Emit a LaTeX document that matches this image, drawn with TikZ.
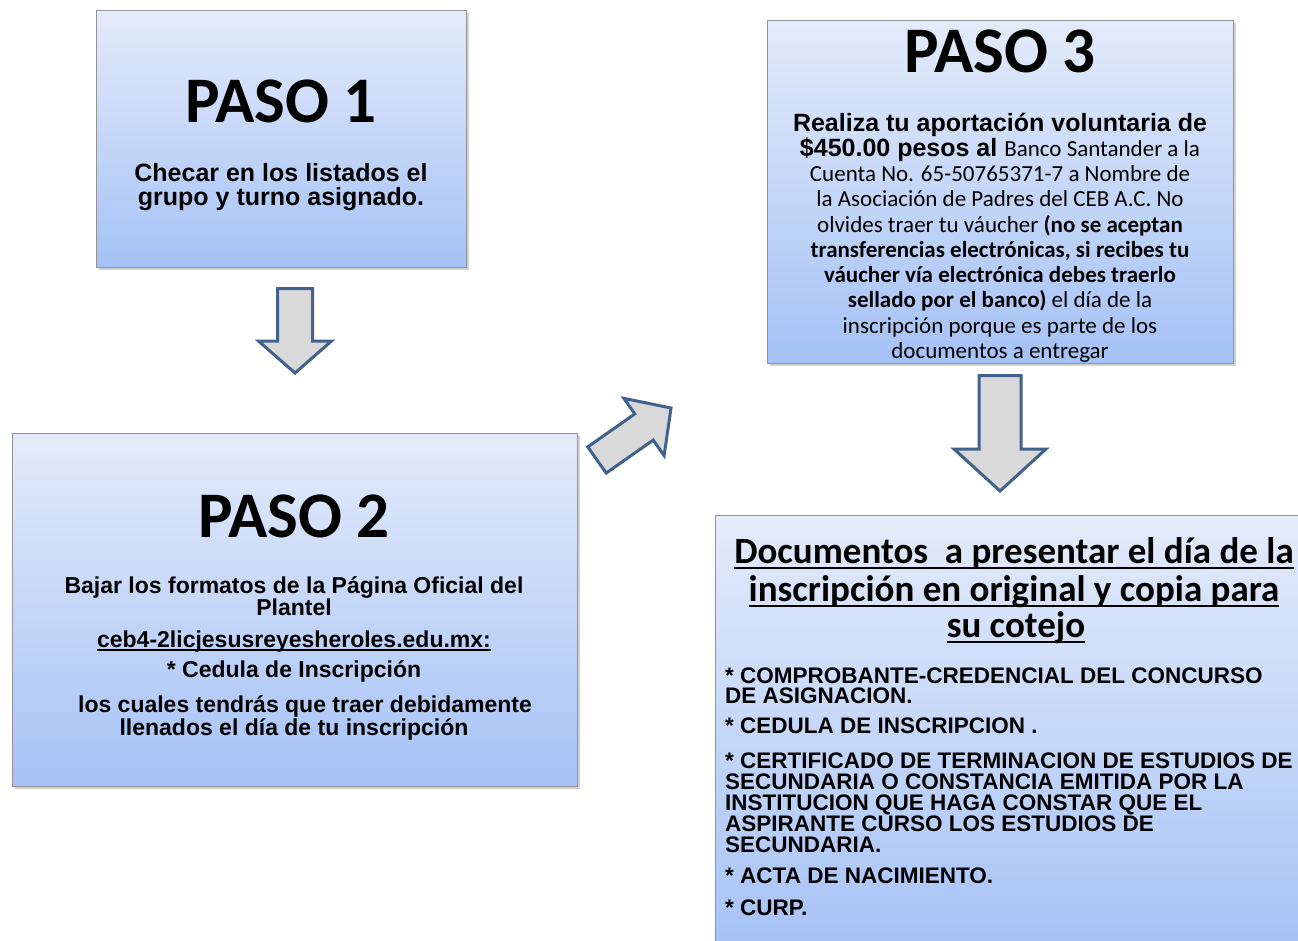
\documentclass[tikz,border=0pt]{standalone}
\usepackage{fontspec}
\setmainfont{Liberation Sans}
\newfontfamily\calibri{Carlito}
\usetikzlibrary{calc,shadows}

\definecolor{boxtop}{HTML}{E4EBFA}
\definecolor{boxbot}{HTML}{A5C2F6}
\definecolor{arrowline}{HTML}{41628C}
\definecolor{arrowfill}{HTML}{D9D9D9}

% thickness, depth, text
\newcommand{\ulined}[3]{\leavevmode\setbox0=\hbox{#3}\rlap{\copy0}\rule[-#2]{\wd0}{#1}}

\tikzstyle{stepbox} = [draw=gray!85, line width=0.8pt, top color=boxtop, bottom color=boxbot, inner sep=0pt,
  drop shadow={shadow xshift=2.5pt, shadow yshift=-2.5pt, opacity=0.35}]
\tikzstyle{pasotitle} = [anchor=base, inner sep=0pt, font=\calibri\bfseries\fontsize{65}{70}\selectfont]
\tikzstyle{bodyline} = [anchor=base, inner sep=0pt, text height=16pt, text depth=4pt, font=\bfseries\fontsize{23}{25}\selectfont]
\tikzstyle{calline} = [anchor=base, inner sep=0pt, font=\calibri\fontsize{23}{25}\selectfont]
\tikzstyle{doctitle} = [anchor=base, inner sep=0pt, font=\calibri\bfseries\fontsize{37}{40}\selectfont]
\tikzstyle{docitem} = [anchor=base west, inner sep=0pt, text height=16pt, text depth=3pt, font=\bfseries\fontsize{22.5}{24}\selectfont]
\tikzstyle{blockarrow} = [draw=arrowline, fill=arrowfill, line width=3pt, line join=miter]

% tail, tip, shaft half width, head half width, head length
\newcommand{\blockarrow}[5]{%
  \coordinate (#1-h) at ($(#2)!#5!(#1)$);
  \filldraw[blockarrow] ($(#1)!#3!90:(#2)$) -- ($(#1-h)!#3!90:(#2)$) -- ($(#1-h)!#4!90:(#2)$)
    -- (#2) -- ($(#1-h)!#4!-90:(#2)$) -- ($(#1-h)!#3!-90:(#2)$) -- ($(#1)!#3!-90:(#2)$) -- cycle;}

\begin{document}
\begin{tikzpicture}[x=1pt, y=-1pt]
  \useasboundingbox[fill=white] (0,0) rectangle (1298,940);

  % PASO 1
  \node[stepbox, minimum width=370pt, minimum height=257pt] (paso1) at (281,138.5) {};
  \node[pasotitle] (t1) at (281,122) {PASO 1};
  \node[bodyline, font=\bfseries\fontsize{25}{25}\selectfont] (p1a) at (281,181) {Checar en los listados el};
  \node[bodyline, font=\bfseries\fontsize{25}{25}\selectfont] (p1b) at (281,205) {grupo y turno asignado.};

  % PASO 2
  \node[stepbox, minimum width=565pt, minimum height=353pt] (paso2) at (294.5,609.5) {};
  \node[pasotitle] (t2) at (294,537) {PASO 2};
  \node[bodyline] (p2a) at (294,593) {Bajar los formatos de la Página Oficial del};
  \node[bodyline] (p2b) at (294,615) {Plantel};
  \node[bodyline] (p2c) at (294,647) {\ulined{1.3pt}{3.5pt}{ceb4-2licjesusreyesheroles.edu.mx:}};
  \node[bodyline] (p2d) at (294,677) {* Cedula de Inscripción};
  \node[bodyline] (p2e) at (305,712) {los cuales tendrás que traer debidamente};
  \node[bodyline] (p2f) at (294,735) {llenados el día de tu inscripción};

  % PASO 3
  \node[stepbox, minimum width=466pt, minimum height=343pt] (paso3) at (1000,191.5) {};
  \node[pasotitle] (t3) at (1000,72) {PASO 3};
  \node[bodyline, font=\bfseries\fontsize{25}{25}\selectfont] (p3a) at (1000,131) {Realiza tu aportación voluntaria de};
  \node[bodyline, font=\bfseries\fontsize{25}{25}\selectfont] (p3b) at (1000,156)
    {\$450.00 pesos al {\calibri\mdseries\fontsize{23}{25}\selectfont Banco Santander a la}};
  \node[calline] (p3c) at (1000,181) {Cuenta No. 65-50765371-7 a Nombre de};
  \node[calline] (p3d) at (1000,206) {la Asociación de Padres del CEB A.C. No};
  \node[calline] (p3e) at (1000,232) {olvides traer tu váucher {\bfseries (no se aceptan}};
  \node[calline, font=\calibri\bfseries\fontsize{23}{25}\selectfont] (p3f) at (1000,257) {transferencias electrónicas, si recibes tu};
  \node[calline, font=\calibri\bfseries\fontsize{23}{25}\selectfont] (p3g) at (1000,282) {váucher vía electrónica debes traerlo};
  \node[calline] (p3h) at (1000,307) {{\bfseries sellado por el banco)} el día de la};
  \node[calline] (p3i) at (1000,333) {inscripción porque es parte de los};
  \node[calline] (p3j) at (1000,358) {documentos a entregar};

  % documentos
  \node[stepbox, minimum width=595pt, minimum height=440pt] (docs) at (1012.5,735) {};
  \node[doctitle] (d1) at (1014,563) {\ulined{1.8pt}{6pt}{Documentos\ \ a presentar el día de la}};
  \node[doctitle] (d2) at (1014,601) {\ulined{1.8pt}{6pt}{inscripción en original y copia para}};
  \node[doctitle] (d3) at (1016,637) {\ulined{1.8pt}{6pt}{su cotejo}};
  \node[docitem] (i1a) at (725,683) {* COMPROBANTE-CREDENCIAL DEL CONCURSO};
  \node[docitem] (i1b) at (725,703) {DE ASIGNACION.};
  \node[docitem] (i2) at (725,733) {* CEDULA DE INSCRIPCION .};
  \node[docitem] (i3a) at (725,768) {* CERTIFICADO DE TERMINACION DE ESTUDIOS DE};
  \node[docitem] (i3b) at (725,789) {SECUNDARIA O CONSTANCIA EMITIDA POR LA};
  \node[docitem] (i3c) at (725,810) {INSTITUCION QUE HAGA CONSTAR QUE EL};
  \node[docitem] (i3d) at (725,831) {ASPIRANTE CURSO LOS ESTUDIOS DE};
  \node[docitem] (i3e) at (725,852) {SECUNDARIA.};
  \node[docitem] (i4) at (725,883) {* ACTA DE NACIMIENTO.};
  \node[docitem] (i5) at (725,915) {* CURP.};

  % flechas
  \coordinate (a1) at (295,288.5);
  \coordinate (a1tip) at (295,373);
  \coordinate (a2) at (597,460);
  \coordinate (a2tip) at (671,408);
  \coordinate (a3) at (1000,375.5);
  \coordinate (a3tip) at (1000,491);
  \blockarrow{a1}{a1tip}{17.5pt}{36.5pt}{32pt}
  \blockarrow{a2}{a2tip}{16pt}{35pt}{33pt}
  \blockarrow{a3}{a3tip}{21pt}{46pt}{42pt}
\end{tikzpicture}
\end{document}
